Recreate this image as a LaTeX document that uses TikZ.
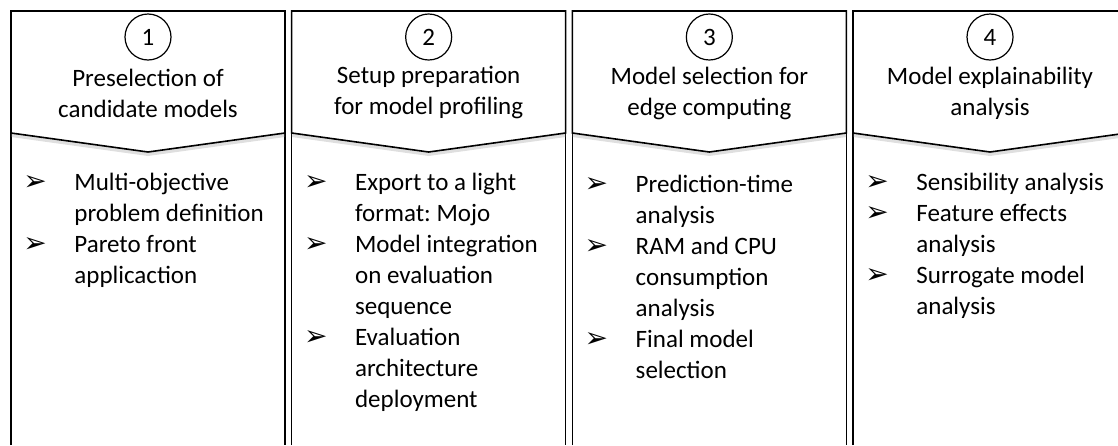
\documentclass[tikz,border=0pt]{standalone}
\usepackage{fontspec}
\setmainfont{Carlito}
\newfontfamily\arrowfont{DejaVu Sans}
\usetikzlibrary{shadows}
\newcommand{\tip}{{\arrowfont\fontsize{14}{15.5}\selectfont ➢}}
\frenchspacing

\begin{document}
\begin{tikzpicture}[x=0.5pt, y=-0.5pt,
  every node/.style={font=\fontsize{12.5}{15.5}\selectfont},
  colline/.style={line width=0.8pt},
  head/.style={draw, line width=0.8pt, fill=white,
    drop shadow={shadow xshift=0pt, shadow yshift=-2pt, opacity=0.25}},
  num/.style={circle, draw, line width=0.6pt, minimum size=23pt, inner sep=0pt},
  headtxt/.style={align=center, inner sep=0pt},
  items/.style={anchor=north west, inner sep=0pt}]

  \newcommand\X{280.67};
  \newcommand\W{274};

  \clip (0,0) rectangle (1118,445);

  %% column outlines
  \draw[colline] (11+0*\X, 445) -- (11+0*\X, 11) -- (11+0*\X+\W, 11) -- (11+0*\X+\W, 445);
  \draw[colline] (11+1*\X, 445) -- (11+1*\X, 11) -- (11+1*\X+\W, 11) -- (11+1*\X+\W, 445);
  \draw[colline] (11+2*\X, 445) -- (11+2*\X, 11) -- (11+2*\X+\W, 11) -- (11+2*\X+\W, 445);
  \draw[colline] (11+3*\X, 445) -- (11+3*\X, 11) -- (11+3*\X+\W, 11) -- (11+3*\X+\W, 445);

  %% chevron headers
  \draw[head] (11+0*\X, 11) -- (11+0*\X+\W, 11) -- (11+0*\X+\W, 133) -- (148+0*\X, 152) -- (11+0*\X, 133) -- cycle;
  \draw[head] (11+1*\X, 11) -- (11+1*\X+\W, 11) -- (11+1*\X+\W, 133) -- (148+1*\X, 152) -- (11+1*\X, 133) -- cycle;
  \draw[head] (11+2*\X, 11) -- (11+2*\X+\W, 11) -- (11+2*\X+\W, 133) -- (148+2*\X, 152) -- (11+2*\X, 133) -- cycle;
  \draw[head] (11+3*\X, 11) -- (11+3*\X+\W, 11) -- (11+3*\X+\W, 133) -- (148+3*\X, 152) -- (11+3*\X, 133) -- cycle;

  %% step 1
  \node[num] (n1) at (148+0*\X, 37) {1};
  \node[headtxt] (t1) at (148+0*\X, 93) {Preselection of\\candidate models};
  \node[items] (b1) at (23+0*\X, 168) {\begin{tabular}{@{}p{25.5pt}@{}l@{}}
    \tip & Multi-objective\\
         & problem definition\\
    \tip & Pareto front\\
         & applicaction
  \end{tabular}};

  %% step 2
  \node[num] (n2) at (148+1*\X, 37) {2};
  \node[headtxt] (t2) at (148+1*\X, 93) {Setup preparation\\for model profiling};
  \node[items] (b2) at (23+1*\X, 168) {\begin{tabular}{@{}p{25.5pt}@{}l@{}}
    \tip & Export to a light\\
         & format: Mojo\\
    \tip & Model integration\\
         & on evaluation\\
         & sequence\\
    \tip & Evaluation\\
         & architecture\\
         & deployment
  \end{tabular}};

  %% step 3
  \node[num] (n3) at (148+2*\X, 37) {3};
  \node[headtxt] (t3) at (148+2*\X, 93) {Model selection for\\edge computing};
  \node[items] (b3) at (23+2*\X, 170) {\begin{tabular}{@{}p{25.5pt}@{}l@{}}
    \tip & Prediction-time\\
         & analysis\\
    \tip & RAM and CPU\\
         & consumption\\
         & analysis\\
    \tip & Final model\\
         & selection
  \end{tabular}};

  %% step 4
  \node[num] (n4) at (148+3*\X, 37) {4};
  \node[headtxt] (t4) at (148+3*\X, 93) {Model explainability\\analysis};
  \node[items] (b4) at (23+3*\X, 168) {\begin{tabular}{@{}p{25.5pt}@{}l@{}}
    \tip & Sensibility analysis\\
    \tip & Feature effects\\
         & analysis\\
    \tip & Surrogate model\\
         & analysis
  \end{tabular}};
\end{tikzpicture}
\end{document}
